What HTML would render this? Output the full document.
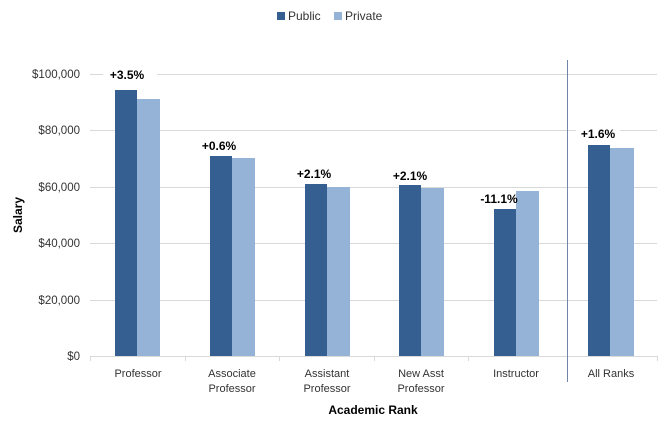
<!DOCTYPE html>
<html><head><meta charset="utf-8"><style>body{margin:0;background:#fff}svg{display:block}text{font-family:"Liberation Sans",sans-serif}</style></head><body>
<svg width="670" height="442" xmlns="http://www.w3.org/2000/svg">
<g stroke="#d9d9d9" stroke-width="1">
<line x1="90" x2="657" y1="74.5" y2="74.5"/><line x1="90" x2="657" y1="130.5" y2="130.5"/><line x1="90" x2="657" y1="187.5" y2="187.5"/><line x1="90" x2="657" y1="243.5" y2="243.5"/><line x1="90" x2="657" y1="300.5" y2="300.5"/>
<line x1="90" x2="657" y1="356.5" y2="356.5"/>
<line x1="90.5" x2="90.5" y1="356" y2="361"/><line x1="185.5" x2="185.5" y1="356" y2="361"/><line x1="279.5" x2="279.5" y1="356" y2="361"/><line x1="374.5" x2="374.5" y1="356" y2="361"/><line x1="468.5" x2="468.5" y1="356" y2="361"/><line x1="657.5" x2="657.5" y1="356" y2="361"/>
</g>
<line x1="567.5" x2="567.5" y1="60" y2="382" stroke="#6f86a8" stroke-width="1"/>
<g fill="#fff"><rect x="103" y="64" width="54" height="20"/><rect x="197" y="136" width="44" height="18"/><rect x="292" y="164" width="44" height="18"/><rect x="388" y="166" width="44" height="18"/><rect x="474" y="189" width="42" height="18"/><rect x="576" y="124" width="44" height="18"/></g>
<g fill="#365f91">
<rect x="115" y="90" width="22" height="266"/><rect x="210" y="156" width="22" height="200"/><rect x="305" y="184" width="22" height="172"/><rect x="399" y="185" width="22" height="171"/><rect x="494" y="209" width="22" height="147"/><rect x="588" y="145" width="22" height="211"/>
</g>
<g fill="#95b3d7">
<rect x="137" y="99" width="23" height="257"/><rect x="232" y="158" width="23" height="198"/><rect x="327" y="187" width="23" height="169"/><rect x="421" y="188" width="23" height="168"/><rect x="516" y="191" width="23" height="165"/><rect x="610" y="148" width="24" height="208"/>
</g>
<g font-size="12" font-weight="bold" fill="#000" text-anchor="middle">
<text x="127" y="79">+3.5%</text><text x="219" y="150">+0.6%</text><text x="314" y="178">+2.1%</text><text x="410" y="180">+2.1%</text><text x="499" y="203">-11.1%</text><text x="598" y="138">+1.6%</text>
</g>
<g font-size="11.5" fill="#333" text-anchor="end">
<text x="80" y="78">$100,000</text><text x="80" y="134">$80,000</text><text x="80" y="191">$60,000</text><text x="80" y="247">$40,000</text><text x="80" y="304">$20,000</text><text x="80" y="360">$0</text>
</g>
<g font-size="11" fill="#333" text-anchor="middle">
<text x="138" y="377">Professor</text>
<text x="232" y="377">Associate</text><text x="232" y="392">Professor</text>
<text x="327" y="377">Assistant</text><text x="327" y="392">Professor</text>
<text x="421" y="377">New Asst</text><text x="421" y="392">Professor</text>
<text x="516" y="377">Instructor</text>
<text x="611" y="377">All Ranks</text>
</g>
<text x="373" y="414" font-size="12" font-weight="bold" text-anchor="middle">Academic Rank</text>
<text transform="translate(22,215) rotate(-90)" font-size="12" font-weight="bold" text-anchor="middle">Salary</text>
<rect x="277" y="12" width="8" height="8" fill="#365f91"/><text x="288" y="20" font-size="12" fill="#333">Public</text>
<rect x="334" y="12" width="8" height="8" fill="#95b3d7"/><text x="345" y="20" font-size="12" fill="#333">Private</text>
</svg>
</body></html>
